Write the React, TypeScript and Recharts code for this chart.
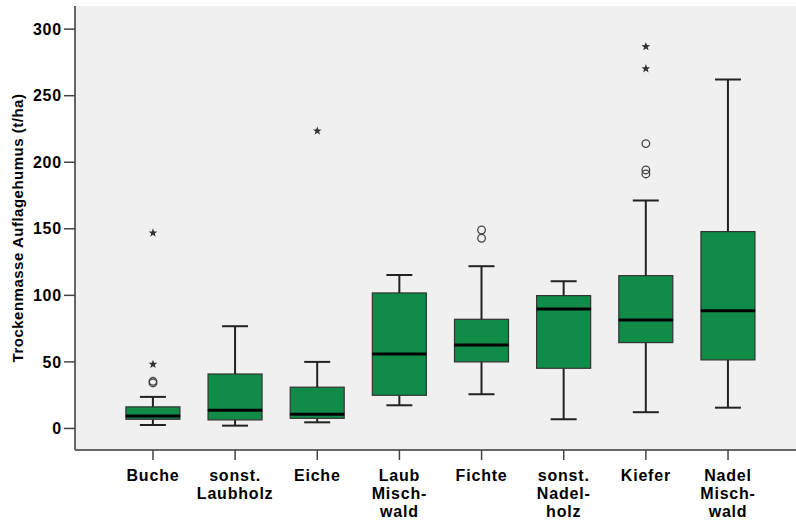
import React from 'react';
import {
  ComposedChart,
  Bar,
  Scatter,
  XAxis,
  YAxis,
  CartesianGrid,
} from 'recharts';

const categories = [
  'Buche',
  'sonst. Laubholz',
  'Eiche',
  'Laub Mischwald',
  'Fichte',
  'sonst. Nadelholz',
  'Kiefer',
  'Nadel Mischwald',
];
const tickLabels = [
  ['Buche'],
  ['sonst.', 'Laubholz'],
  ['Eiche'],
  ['Laub', 'Misch-', 'wald'],
  ['Fichte'],
  ['sonst.', 'Nadel-', 'holz'],
  ['Kiefer'],
  ['Nadel', 'Misch-', 'wald'],
];
const mins = [2.6, 2.1, 4.6, 17.4, 25.7, 6.9, 12.2, 15.6];
const q1s = [6.9, 6.4, 7.6, 24.9, 50, 45.2, 64.5, 51.5];
const medians = [9.4, 13.7, 10.7, 56, 62.7, 89.8, 81.5, 88.5];
const q3s = [16.2, 40.9, 31, 101.8, 82, 99.8, 114.8, 147.9];
const maxs = [23.7, 76.8, 50, 115.3, 121.9, 110.6, 171.2, 262.1];

const circleCats = ['Buche', 'Buche', 'Fichte', 'Fichte', 'Kiefer', 'Kiefer', 'Kiefer'];
const circleValues = [34.2, 35.4, 149.1, 142.9, 214, 194.2, 191.2];
const starCats = ['Buche', 'Buche', 'Eiche', 'Kiefer', 'Kiefer'];
const starValues = [48.2, 146.9, 223.5, 286.9, 270.3];

const yTicks = [0, 50, 100, 150, 200, 250, 300];
const yDomain = [-16.2, 317.4];

const boxData = categories.map((name, i) => ({
  name,
  base: mins[i],
  lw: q1s[i] - mins[i],
  lb: medians[i] - q1s[i],
  ub: q3s[i] - medians[i],
  uw: maxs[i] - q3s[i],
}));
const circleData = circleCats.map((name, i) => ({ name, v: circleValues[i] }));
const starData = starCats.map((name, i) => ({ name, v: starValues[i] }));

const GREEN = '#118b48';
const FONT = '"Liberation Sans", Arial, sans-serif';
const CAP = 13;

const Empty = () => <g />;

const LowerWhisker = (p: any) => {
  const cx = p.x + p.width / 2;
  return (
    <g stroke="#222" strokeWidth={2}>
      <line x1={cx} x2={cx} y1={p.y} y2={p.y + p.height} />
      <line x1={cx - CAP} x2={cx + CAP} y1={p.y + p.height} y2={p.y + p.height} />
    </g>
  );
};
const UpperWhisker = (p: any) => {
  const cx = p.x + p.width / 2;
  return (
    <g stroke="#222" strokeWidth={2}>
      <line x1={cx} x2={cx} y1={p.y} y2={p.y + p.height} />
      <line x1={cx - CAP} x2={cx + CAP} y1={p.y} y2={p.y} />
    </g>
  );
};
const LowerBox = (p: any) => (
  <rect x={p.x} y={p.y} width={p.width} height={p.height} fill={GREEN} stroke="#333" strokeWidth={1.2} />
);
const UpperBox = (p: any) => (
  <g>
    <rect x={p.x} y={p.y} width={p.width} height={p.height} fill={GREEN} stroke="#333" strokeWidth={1.2} />
    <line x1={p.x} x2={p.x + p.width} y1={p.y + p.height} y2={p.y + p.height} stroke="#000" strokeWidth={3} />
  </g>
);

const CircleShape = (p: any) => (
  <circle cx={p.cx} cy={p.cy} r={3.8} fill="none" stroke="#444" strokeWidth={1.3} />
);
const StarShape = (p: any) => {
  const pts: string[] = [];
  for (let k = 0; k < 10; k++) {
    const r = k % 2 === 0 ? 4.6 : 1.9;
    const a = -Math.PI / 2 + (k * Math.PI) / 5;
    pts.push(`${p.cx + r * Math.cos(a)},${p.cy + r * Math.sin(a)}`);
  }
  return <polygon points={pts.join(' ')} fill="#333" />;
};

const XTick = (p: any) => {
  const idx = categories.indexOf(p.payload.value);
  const lines = idx >= 0 ? tickLabels[idx] : [String(p.payload.value)];
  return (
    <text
      x={p.x}
      y={p.y}
      textAnchor="middle"
      fontFamily={FONT}
      fontSize={16}
      fontWeight="bold"
      fill="#000"
      letterSpacing={0.8}
    >
      {lines.map((l, i) => (
        <tspan key={i} x={p.x} dy={i === 0 ? 19 : 18}>
          {l}
        </tspan>
      ))}
    </text>
  );
};

const YTitle = (p: any) => {
  const vb = p.viewBox;
  const x = vb.x + 17;
  const y = vb.y + vb.height / 2;
  return (
    <text
      x={x}
      y={y}
      transform={`rotate(-90, ${x}, ${y})`}
      textAnchor="middle"
      dominantBaseline="central"
      fontFamily={FONT}
      fontSize={15}
      fontWeight="bold"
      letterSpacing={0.5}
      fill="#000"
    >
      Trockenmasse Auflagehumus (t/ha)
    </text>
  );
};

export default function App() {
  return (
    <div
      style={{
        position: 'absolute',
        left: 0,
        top: 0,
        width: 796,
        height: 522,
        overflow: 'hidden',
        background: '#fff',
      }}
    >
      <ComposedChart
        width={800}
        height={522}
        data={boxData}
        margin={{ top: 6, right: 0, bottom: 0, left: 0 }}
      >
        <CartesianGrid horizontal={false} vertical={false} fill="#f0f0f0" fillOpacity={1} stroke="none" />
        <XAxis
          xAxisId="top"
          orientation="top"
          dataKey="name"
          type="category"
          allowDuplicatedCategory={false}
          height={0}
          axisLine={{ stroke: '#666', strokeWidth: 2 }}
          tick={false}
          tickLine={false}
        />
        <XAxis
          dataKey="name"
          type="category"
          allowDuplicatedCategory={false}
          height={72}
          padding={{ left: 36.9, right: 30.9 }}
          axisLine={{ stroke: '#666', strokeWidth: 2 }}
          tickLine={{ stroke: '#444', strokeWidth: 1.5 }}
          tickSize={10}
          tickMargin={2}
          interval={0}
          tick={<XTick />}
        />
        <YAxis
          type="number"
          domain={yDomain}
          ticks={yTicks}
          allowDataOverflow
          width={75}
          axisLine={{ stroke: '#666', strokeWidth: 2 }}
          tickLine={{ stroke: '#444', strokeWidth: 1.5 }}
          tickSize={11}
          tickMargin={2}
          tick={{ fontSize: 16, fontWeight: 'bold', fill: '#000', fontFamily: FONT, letterSpacing: 0.8 }}
          label={<YTitle />}
        />
        <Bar dataKey="base" stackId="b" barSize={54} shape={Empty} isAnimationActive={false} />
        <Bar dataKey="lw" stackId="b" barSize={54} shape={LowerWhisker} isAnimationActive={false} />
        <Bar dataKey="lb" stackId="b" barSize={54} shape={LowerBox} isAnimationActive={false} />
        <Bar dataKey="ub" stackId="b" barSize={54} shape={UpperBox} isAnimationActive={false} />
        <Bar dataKey="uw" stackId="b" barSize={54} shape={UpperWhisker} isAnimationActive={false} />
        <Scatter data={circleData} dataKey="v" shape={CircleShape} isAnimationActive={false} />
        <Scatter data={starData} dataKey="v" shape={StarShape} isAnimationActive={false} />
      </ComposedChart>
    </div>
  );
}
